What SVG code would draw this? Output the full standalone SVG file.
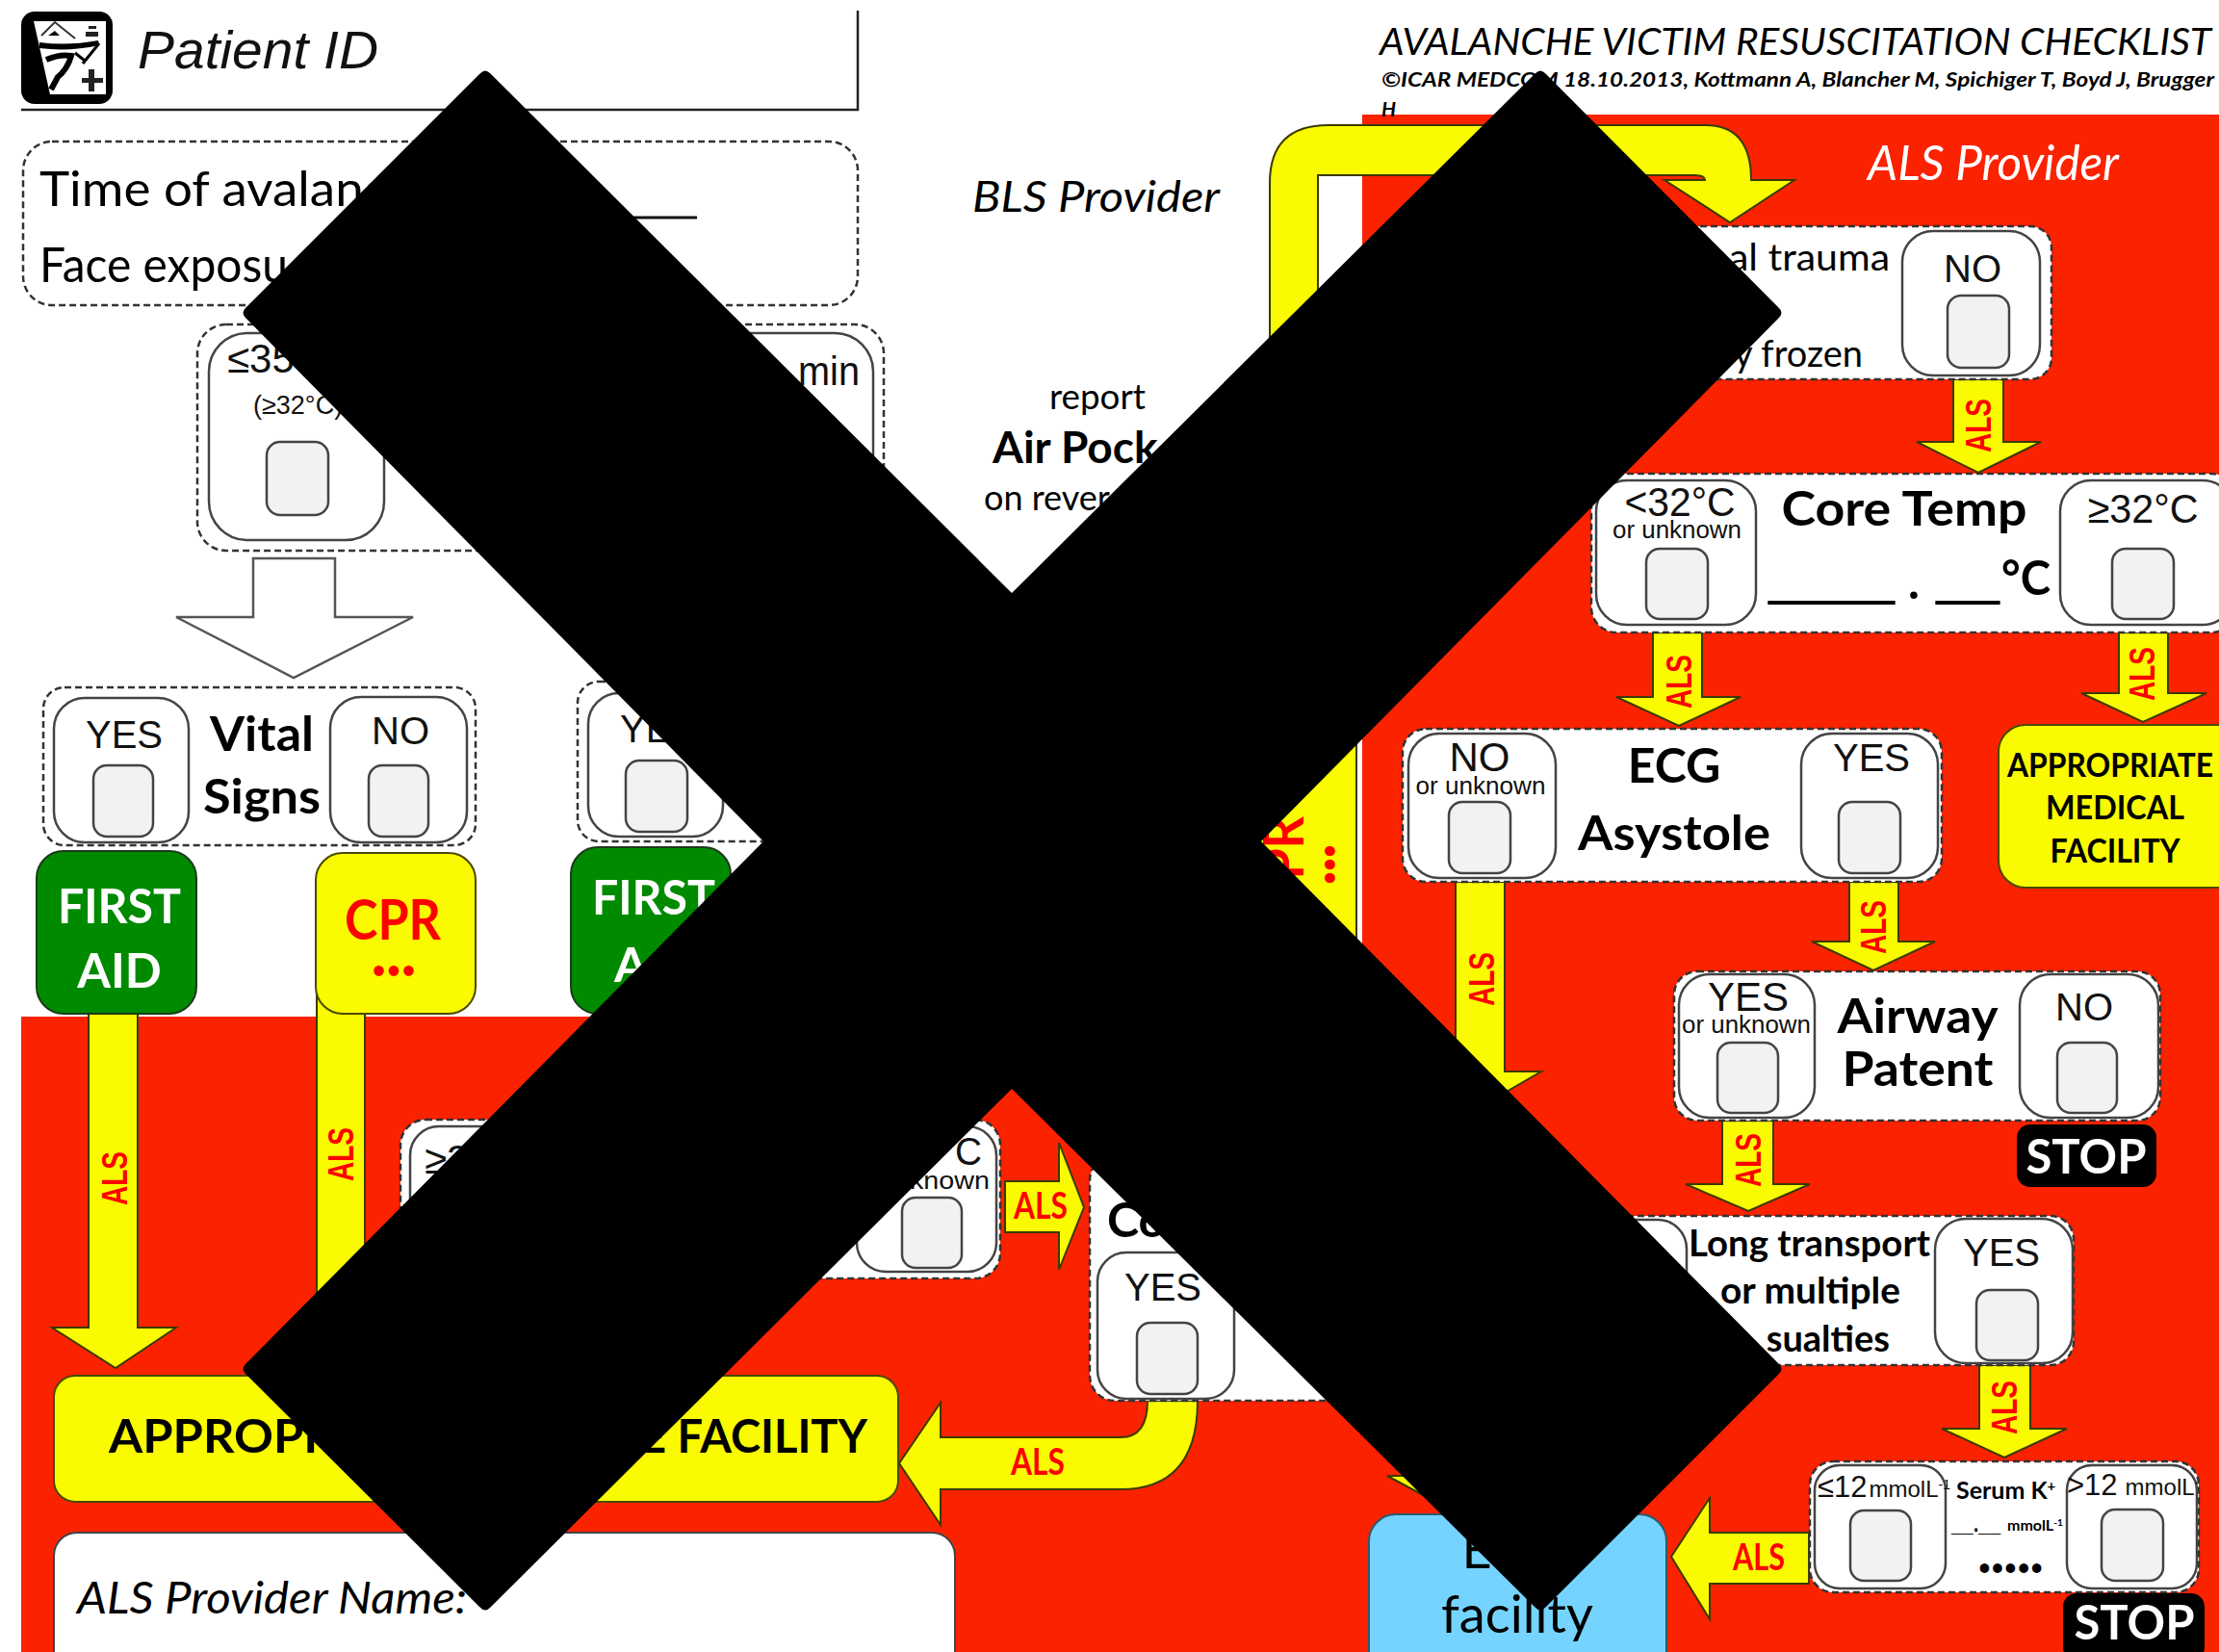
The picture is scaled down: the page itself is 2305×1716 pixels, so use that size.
<svg xmlns="http://www.w3.org/2000/svg" width="2305" height="1716" viewBox="0 0 2305 1716">
<style>
text{font-family:"Lato","Noto Sans",sans-serif;fill:#000}
.a{font-family:"Liberation Sans",Arial,sans-serif;fill:#111}
.b{font-weight:700}
.i{font-style:italic}
.m{text-anchor:middle}
.dash{fill:#fff;stroke:#333;stroke-width:2.5;stroke-dasharray:7 4}
.in{fill:#fff;stroke:#444;stroke-width:2.5}
.ck{fill:#f2f2f2;stroke:#444;stroke-width:2.5}
.ar{fill:#fafa00;stroke:#3a3a00;stroke-width:2}
.als{font-family:"Liberation Sans",Arial,sans-serif;font-weight:700;fill:#f00;font-size:36px;text-anchor:middle}
.alh{fill:#f00;font-size:38px;text-anchor:middle;font-weight:700}
.y{fill:#fafa00;stroke:#4a4a00;stroke-width:2}
.g{fill:#008a00;stroke:#1c3a1c;stroke-width:2}
.st{fill:#000}
.yn{font-family:"Liberation Sans",Arial,sans-serif;font-size:40px;text-anchor:middle;fill:#111}
.ou{font-family:"Liberation Sans",Arial,sans-serif;font-size:25px;text-anchor:middle;fill:#111}
.h{font-weight:700;font-size:50px;text-anchor:middle}
.w{fill:#fff;font-size:50px;font-weight:700;text-anchor:middle}
.t{font-size:38px}
.r{fill:#f00}
.u{stroke:#000;stroke-width:2}
</style>
<rect width="2305" height="1716" fill="#fff"/>
<path id="red-panels" d="M1415 119H2305V1716H22V1056H1415Z" fill="#fb2200"/>

<g id="connectors">
<path class="ar" d="M1290 760H1409V1040H1290Z"/>
<path class="ar" d="M1319 600V190Q1319 130 1380 130H1771Q1819 130 1819 187H1864L1797 231L1729 187H1771Q1771 182 1760 182H1369V600Z"/>
<path class="ar" d="M2029 394H2081V459H2120L2055 491L1991 459H2029Z"/>
<path class="ar" d="M1717 657H1768V724H1808L1744 754L1679 724H1717Z"/>
<path class="ar" d="M2201 657H2252V720H2292L2226 750L2162 720H2201Z"/>
<path class="ar" d="M1512 916H1563V1113H1601L1537 1150L1475 1113H1512Z"/>
<path class="ar" d="M1921 916H1972V978H2010L1946 1008L1882 978H1921Z"/>
<path class="ar" d="M1789 1164H1842V1230H1880L1816 1258L1751 1230H1789Z"/>
<path class="ar" d="M2056 1418H2109V1484H2147L2082 1514L2017 1484H2056Z"/>
<path class="ar" d="M1879 1592V1645H1776V1682L1736 1617L1776 1556V1592Z"/>
<path class="ar" d="M1441 1533H1571L1506 1568Z"/>
<path class="ar" d="M92 1053H143V1379H183L120 1421L54 1379H92Z"/>
<path class="ar" d="M329 1000H379V1420H329Z"/>
<path class="ar" d="M1044 1227H1100V1187L1126 1254L1100 1319V1280H1044Z"/>
<path class="ar" d="M1244 1455Q1244 1547 1164 1547H977V1584L934 1520L977 1457V1493H1164Q1192 1493 1192 1455Z"/>
<text class="als" transform="translate(2068 442) rotate(-90)" textLength="56" lengthAdjust="spacingAndGlyphs">ALS</text>
<text class="als" transform="translate(1757 708) rotate(-90)" textLength="56" lengthAdjust="spacingAndGlyphs">ALS</text>
<text class="als" transform="translate(2238 700) rotate(-90)" textLength="56" lengthAdjust="spacingAndGlyphs">ALS</text>
<text class="als" transform="translate(1552 1017) rotate(-90)" textLength="56" lengthAdjust="spacingAndGlyphs">ALS</text>
<text class="als" transform="translate(1959 963) rotate(-90)" textLength="56" lengthAdjust="spacingAndGlyphs">ALS</text>
<text class="als" transform="translate(1829 1205) rotate(-90)" textLength="56" lengthAdjust="spacingAndGlyphs">ALS</text>
<text class="als" transform="translate(2095 1462) rotate(-90)" textLength="56" lengthAdjust="spacingAndGlyphs">ALS</text>
<text class="als" transform="translate(132 1224) rotate(-90)" textLength="56" lengthAdjust="spacingAndGlyphs">ALS</text>
<text class="als" transform="translate(367 1199) rotate(-90)" textLength="56" lengthAdjust="spacingAndGlyphs">ALS</text>
<text class="alh" x="1827" y="1631" textLength="54" lengthAdjust="spacingAndGlyphs">ALS</text>
<text class="alh" x="1081" y="1266" textLength="56" lengthAdjust="spacingAndGlyphs">ALS</text>
<text class="alh" x="1078" y="1532" textLength="56" lengthAdjust="spacingAndGlyphs">ALS</text>
</g>

<g id="header">
<path d="M891 11V114H22" fill="none" stroke="#222" stroke-width="2.5"/>
<g id="icon">
<rect x="22" y="12" width="95" height="96" rx="14" fill="#000"/>
<path d="M35 22H110V98H52Z" fill="#fff"/>
<path d="M43 37L57 23L78 40" fill="none" stroke="#333" stroke-width="2"/>
<path d="M50 37L57 32L62 37Z" fill="#111"/>
<path d="M41 44Q70 48 102 42L103 47Q72 54 41 50Z" fill="#000"/>
<path d="M103 45L86 66M78 55L88 63" fill="none" stroke="#000" stroke-width="3"/>
<path d="M48 62Q62 56 74 58Q70 72 60 80L53 93" fill="none" stroke="#000" stroke-width="6"/>
<path d="M92 27H100V30H92ZM89 33H102V38H89Z" fill="#222"/>
<path d="M85 81H107V86H85ZM92 72H98V95H92Z" fill="#222"/>
</g>
<text class="a i" x="143" y="71" font-size="56" textLength="250" lengthAdjust="spacingAndGlyphs">Patient ID</text>
<text class="i" x="1433" y="57" font-size="38" textLength="864" lengthAdjust="spacingAndGlyphs">AVALANCHE VICTIM RESUSCITATION CHECKLIST</text>
<text class="i b" x="1435" y="90" font-size="21" textLength="865" lengthAdjust="spacingAndGlyphs">©ICAR MEDCOM 18.10.2013, Kottmann A, Blancher M, Spichiger T, Boyd J, Brugger</text>
<text class="i b" x="1435" y="121" font-size="21">H</text>
<text class="i" x="1010" y="220" font-size="45" textLength="257" lengthAdjust="spacingAndGlyphs">BLS Provider</text>
<text x="1090" y="425" font-size="36" textLength="100" lengthAdjust="spacingAndGlyphs">report</text>
<text class="b" x="1031" y="481" font-size="46">Air Pock</text>
<text x="1022" y="530" font-size="36">on rever</text>
<text class="i" x="1940" y="187" font-size="50" textLength="261" lengthAdjust="spacingAndGlyphs" style="fill:#fff">ALS Provider</text>
</g>

<g id="time-box">
<rect class="dash" x="24" y="147" width="867" height="170" rx="30"/>
<text x="41" y="214" font-size="50" textLength="362" lengthAdjust="spacingAndGlyphs">Time of avalanc</text>
<text x="41" y="293" font-size="50" textLength="258" lengthAdjust="spacingAndGlyphs">Face exposu</text>
<path d="M560 226H724" stroke="#111" stroke-width="3"/>
</g>

<g id="time-choice">
<rect class="dash" x="205" y="337" width="713" height="235" rx="30"/>
<rect class="in" x="217" y="346" width="182" height="215" rx="40"/>
<rect class="in" x="640" y="346" width="267" height="215" rx="40"/>
<rect class="ck" x="277" y="459" width="64" height="76" rx="14"/>
<text class="a" x="236" y="387" font-size="42">≤35</text>
<text class="a" x="263" y="430" font-size="27">(≥32°C)</text>
<text class="a" x="829" y="400" font-size="42" textLength="64" lengthAdjust="spacingAndGlyphs">min</text>
</g>

<path id="white-arrow" d="M263 580H348V641H429L305 704L183 641H263Z" fill="#fff" stroke="#555" stroke-width="2.5"/>

<g id="vital-signs">
<rect class="dash" x="45" y="714" width="449" height="164" rx="22"/>
<rect class="in" x="56" y="725" width="140" height="150" rx="32"/>
<rect class="ck" x="97" y="795" width="62" height="74" rx="14"/>
<text class="yn" x="129" y="777">YES</text>
<text class="h" x="272" y="780" textLength="108" lengthAdjust="spacingAndGlyphs">Vital</text>
<text class="h" x="272" y="845" textLength="122" lengthAdjust="spacingAndGlyphs">Signs</text>
<rect class="in" x="343" y="724" width="142" height="151" rx="32"/>
<rect class="ck" x="383" y="795" width="62" height="74" rx="14"/>
<text class="yn" x="416" y="773">NO</text>
</g>
<g id="first-aid-1">
<rect class="g" x="38" y="884" width="166" height="169" rx="28"/>
<text class="w" x="124" y="959" textLength="128" lengthAdjust="spacingAndGlyphs">FIRST</text>
<text class="w" x="124" y="1026">AID</text>
</g>
<g id="cpr-1">
<rect class="y" x="328" y="886" width="166" height="167" rx="28"/>
<text class="m b r" x="408" y="976" font-size="58" textLength="100" lengthAdjust="spacingAndGlyphs">CPR</text>
<text class="m b r" x="409" y="1016" font-size="24" textLength="45" lengthAdjust="spacing">•••</text>
</g>
<g id="vital-signs-2">
<rect class="dash" x="600" y="708" width="300" height="166" rx="22"/>
<rect class="in" x="611" y="720" width="140" height="149" rx="32"/>
<rect class="ck" x="650" y="790" width="64" height="74" rx="14"/>
<text class="yn" x="644" y="771" style="text-anchor:start">YE</text>
</g>
<g id="first-aid-2">
<rect class="g" x="593" y="880" width="166" height="173" rx="28"/>
<text class="w" x="615" y="950" style="text-anchor:start" textLength="128" lengthAdjust="spacingAndGlyphs">FIRST</text>
<text class="w" x="638" y="1020" style="text-anchor:start">A</text>
</g>

<g id="cpr-2-label">
<text transform="translate(1354 898) rotate(-90)" class="m b r" font-size="58" textLength="100" lengthAdjust="spacingAndGlyphs">CPR</text>
<text transform="translate(1389 898) rotate(-90)" class="m b r" font-size="24" textLength="42" lengthAdjust="spacing">•••</text>
</g>

<g id="left-temp">
<rect class="dash" x="416" y="1163" width="623" height="165" rx="26"/>
<rect class="in" x="426" y="1170" width="200" height="151" rx="30"/>
<rect class="in" x="890" y="1170" width="145" height="151" rx="30"/>
<rect class="ck" x="937" y="1244" width="62" height="73" rx="14"/>
<text class="a" x="441" y="1219" font-size="42">≥3</text>
<text class="a" x="992" y="1210" font-size="40" textLength="28" lengthAdjust="spacingAndGlyphs">C</text>
<text class="a" x="945" y="1235" font-size="25" textLength="83" lengthAdjust="spacingAndGlyphs">known</text>
</g>
<g id="left-core">
<rect class="dash" x="1132" y="1200" width="300" height="255" rx="26"/>
<rect class="in" x="1140" y="1301" width="142" height="152" rx="30"/>
<rect class="ck" x="1181" y="1374" width="63" height="74" rx="14"/>
<text class="yn" x="1208" y="1351">YES</text>
<text class="h" x="1150" y="1285" style="text-anchor:start">Co</text>
</g>

<g id="appropriate-wide">
<rect class="y" x="56" y="1429" width="877" height="131" rx="22"/>
<text class="b" x="113" y="1509" font-size="47" textLength="250" lengthAdjust="spacingAndGlyphs">APPROPRI</text>
<text class="b" x="665" y="1509" font-size="47" textLength="236" lengthAdjust="spacingAndGlyphs">E FACILITY</text>
</g>
<g id="als-name">
<rect x="56" y="1592" width="936" height="160" rx="24" fill="#fff" stroke="#444" stroke-width="2"/>
<text class="i" x="80" y="1676" font-size="46" textLength="405" lengthAdjust="spacingAndGlyphs">ALS Provider Name:</text>
</g>

<g id="trauma">
<rect class="dash" x="1700" y="235" width="431" height="159" rx="22"/>
<rect class="in" x="1976" y="240" width="143" height="150" rx="32"/>
<rect class="ck" x="2023" y="307" width="64" height="75" rx="14"/>
<text class="yn" x="2049" y="293">NO</text>
<text class="t" x="1796" y="281" textLength="167" lengthAdjust="spacingAndGlyphs">al trauma</text>
<text class="t" x="1935" y="381" text-anchor="end">y frozen</text>
</g>
<g id="core-temp">
<rect class="dash" x="1653" y="492" width="670" height="165" rx="26"/>
<rect class="in" x="1658" y="499" width="166" height="150" rx="32"/>
<rect class="ck" x="1710" y="570" width="64" height="73" rx="14"/>
<text class="yn" x="1745" y="536" style="font-size:42px" textLength="115" lengthAdjust="spacingAndGlyphs">&lt;32°C</text>
<text class="ou" x="1742" y="559" textLength="134" lengthAdjust="spacingAndGlyphs">or unknown</text>
<text class="h" x="1978" y="546" textLength="255" lengthAdjust="spacingAndGlyphs">Core Temp</text>
<rect class="in" x="2140" y="499" width="180" height="150" rx="32"/>
<rect class="ck" x="2194" y="570" width="64" height="73" rx="14"/>
<text class="yn" x="2226" y="543" style="font-size:42px" textLength="115" lengthAdjust="spacingAndGlyphs">≥32°C</text>
<text class="a b u" x="1838" y="621" font-size="50" textLength="129" lengthAdjust="spacingAndGlyphs">____</text>
<text class="b" x="1982" y="622" font-size="50">.</text>
<text class="a b u" x="2012" y="621" font-size="50" textLength="64" lengthAdjust="spacingAndGlyphs">__</text>
<text class="b" x="2079" y="618" font-size="50" textLength="51" lengthAdjust="spacingAndGlyphs">°C</text>
</g>
<g id="appropriate-tall">
<rect class="y" x="2076" y="753" width="260" height="169" rx="28"/>
<text class="b" x="2085" y="807" font-size="34" textLength="214" lengthAdjust="spacingAndGlyphs">APPROPRIATE</text>
<text class="b m" x="2197" y="851" font-size="34" textLength="144" lengthAdjust="spacingAndGlyphs">MEDICAL</text>
<text class="b m" x="2197" y="896" font-size="34" textLength="135" lengthAdjust="spacingAndGlyphs">FACILITY</text>
</g>
<g id="ecg">
<rect class="dash" x="1457" y="757" width="560" height="159" rx="24"/>
<rect class="in" x="1463" y="762" width="153" height="150" rx="32"/>
<rect class="ck" x="1505" y="833" width="64" height="74" rx="14"/>
<text class="yn" x="1537" y="801" style="font-size:42px">NO</text>
<text class="ou" x="1538" y="825" textLength="135" lengthAdjust="spacingAndGlyphs">or unknown</text>
<text class="h" x="1739" y="813">ECG</text>
<text class="h" x="1739" y="883" textLength="200" lengthAdjust="spacingAndGlyphs">Asystole</text>
<rect class="in" x="1871" y="762" width="142" height="150" rx="32"/>
<rect class="ck" x="1910" y="833" width="64" height="74" rx="14"/>
<text class="yn" x="1944" y="801">YES</text>
</g>
<g id="airway">
<rect class="dash" x="1739" y="1009" width="505" height="155" rx="24"/>
<rect class="in" x="1744" y="1012" width="141" height="149" rx="32"/>
<rect class="ck" x="1784" y="1083" width="63" height="73" rx="14"/>
<text class="yn" x="1816" y="1050" style="font-size:42px">YES</text>
<text class="ou" x="1814" y="1073" textLength="134" lengthAdjust="spacingAndGlyphs">or unknown</text>
<text class="h" x="1992" y="1073" textLength="167" lengthAdjust="spacingAndGlyphs">Airway</text>
<text class="h" x="1992" y="1128" textLength="157" lengthAdjust="spacingAndGlyphs">Patent</text>
<rect class="in" x="2098" y="1012" width="144" height="149" rx="32"/>
<rect class="ck" x="2137" y="1083" width="62" height="73" rx="14"/>
<text class="yn" x="2165" y="1060">NO</text>
</g>
<g id="stop-1">
<rect class="st" x="2095" y="1168" width="145" height="65" rx="14"/>
<text class="w" x="2167" y="1219" textLength="125" lengthAdjust="spacingAndGlyphs">STOP</text>
</g>
<g id="transport">
<rect class="dash" x="1600" y="1263" width="554" height="155" rx="24"/>
<rect class="in" x="1612" y="1267" width="140" height="148" rx="30"/>
<rect class="in" x="2010" y="1266" width="143" height="150" rx="32"/>
<rect class="ck" x="2053" y="1340" width="64" height="73" rx="14"/>
<text class="yn" x="2079" y="1315">YES</text>
<text class="t b" x="1754" y="1305" textLength="251" lengthAdjust="spacingAndGlyphs">Long transport</text>
<text class="t b" x="1787" y="1354" textLength="187" lengthAdjust="spacingAndGlyphs">or multiple</text>
<text class="t b" x="1963" y="1404" text-anchor="end">sualties</text>
</g>
<g id="serum">
<rect class="dash" x="1880" y="1518" width="404" height="136" rx="24"/>
<rect class="in" x="1885" y="1522" width="136" height="128" rx="26"/>
<rect class="ck" x="1922" y="1569" width="63" height="73" rx="14"/>
<text class="a" x="1888" y="1555" font-size="31">≤12<tspan font-size="24" dx="2">mmolL</tspan><tspan font-size="14" dy="-8">-1</tspan></text>
<rect class="in" x="2147" y="1522" width="135" height="128" rx="26"/>
<rect class="ck" x="2183" y="1568" width="64" height="74" rx="14"/>
<text class="a" x="2147" y="1553" font-size="31">&gt;12<tspan font-size="24" dx="8">mmolL</tspan><tspan font-size="14" dy="-8">-</tspan></text>
<text class="b" x="2032" y="1557" font-size="25">Serum K<tspan font-size="15" dy="-8">+</tspan></text>
<text class="a b" x="2027" y="1591" font-size="24" textLength="51" lengthAdjust="spacingAndGlyphs">__.__</text>
<text class="b" x="2085" y="1590" font-size="16">mmolL<tspan font-size="10" dy="-5">-1</tspan></text>
<text class="b" x="2055" y="1636" font-size="22" textLength="67" lengthAdjust="spacing">•••••</text>
</g>
<g id="stop-2">
<rect class="st" x="2143" y="1655" width="147" height="70" rx="14"/>
<text class="w" x="2217" y="1703" textLength="125" lengthAdjust="spacingAndGlyphs">STOP</text>
</g>
<g id="ecls-facility">
<rect x="1422" y="1573" width="309" height="170" rx="28" fill="#75d4ff" stroke="#2c5a70" stroke-width="2"/>
<text class="m" x="1534" y="1629" font-size="54">E</text>
<text class="m" x="1576" y="1696" font-size="54" textLength="158" lengthAdjust="spacingAndGlyphs">facility</text>
</g>

<path id="cross" d="M510 77L1051 616L1594 77Q1600 70 1606 77L1847 319Q1854 325 1847 331L1310 874L1847 1416Q1854 1422 1847 1428L1606 1669Q1600 1676 1594 1669L1051 1131L510 1669Q504 1676 498 1669L256 1428Q249 1422 256 1416L793 874L256 331Q249 325 256 319L498 77Q504 70 510 77Z" fill="#000"/>
</svg>
